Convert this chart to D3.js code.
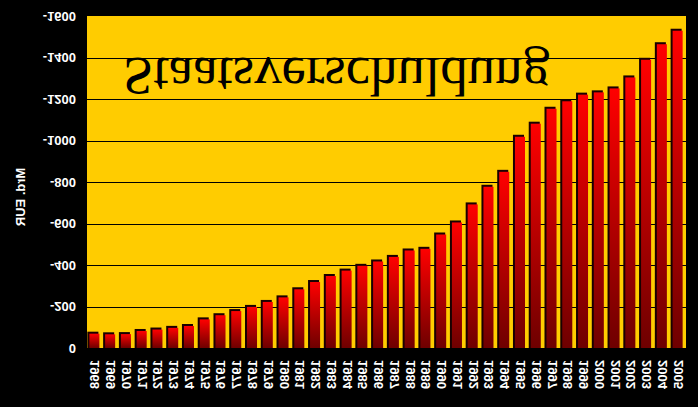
<!DOCTYPE html>
<html><head><meta charset="utf-8">
<script src="https://cdn.jsdelivr.net/npm/d3@7"></script>
<style>html,body{margin:0;padding:0;background:#000;}svg{display:block;}</style>
</head><body>
<svg id="c" width="698" height="407"></svg>
<script>
const years = ["1968","1969","1970","1971","1972","1973","1974","1975","1976","1977","1978","1979","1980","1981","1982","1983","1984","1985","1986","1987","1988","1989","1990","1991","1992","1993","1994","1995","1996","1997","1998","1999","2000","2001","2002","2003","2004","2005"];
const debt = [69,66,67,82,89,97,106,138,158,178,198,222,244,283,318,347,373,396,417,439,470,478,547,605,692,777,849,1018,1081,1153,1189,1221,1232,1251,1304,1389,1464,1529];
const tickValues = [0,200,400,600,800,1000,1200,1400,1600];
const tickLabels = ["0","-200","-400","-600","-800","-1000","-1200","-1400","-1600"];
const title = "Staatsverschuldung";
const yTitle = "Mrd. EUR";

const svg = d3.select("#c");
const L = 87, R = 686, T = 16, B = 348;
svg.append("rect").attr("width",698).attr("height",407).attr("fill","#000");

const x = d3.scaleBand().domain(years).range([L,R]).paddingInner(0.3).paddingOuter(0.15);
const y = d3.scaleLinear().domain([0,1600]).range([B,T]);

const defs = svg.append("defs");
const g = defs.append("linearGradient").attr("id","bg").attr("x1",0).attr("y1",0).attr("x2",0).attr("y2",1);
g.append("stop").attr("offset","0%").attr("stop-color","#ff0000");
g.append("stop").attr("offset","100%").attr("stop-color","#6e0000");

svg.append("rect").attr("x",L).attr("y",T).attr("width",R-L).attr("height",B-T).attr("fill","#ffcc00");

svg.append("g").selectAll("line").data(tickValues.filter(v=>v>0&&v<1600)).join("line")
  .attr("x1",L).attr("x2",R).attr("y1",d=>Math.round(y(d))+0.5).attr("y2",d=>Math.round(y(d))+0.5)
  .attr("stroke","#000").attr("stroke-width",1);

// title (vertically mirrored)
svg.append("text").attr("transform",`translate(123,58) scale(1,-1)`)
  .attr("font-family","Liberation Serif, Times New Roman, serif").attr("font-size",55)
  .attr("fill","#000").attr("textLength",427).attr("lengthAdjust","spacingAndGlyphs").text(title);

const data = years.map((yr,i)=>({yr, v:debt[i]}));
const bars = svg.append("g");
bars.selectAll("rect.sh").data(data).join("rect").attr("class","sh")
  .attr("x",d=>x(d.yr)-2).attr("y",d=>y(d.v)-2)
  .attr("width",x.bandwidth()).attr("height",d=>B-y(d.v)+2).attr("fill","#1a0000");
bars.selectAll("rect.b").data(data).join("rect").attr("class","b")
  .attr("x",d=>x(d.yr)).attr("y",d=>y(d.v))
  .attr("width",x.bandwidth()-1).attr("height",d=>B-y(d.v)).attr("fill","url(#bg)");

// y tick labels (mirrored)
svg.append("g").selectAll("text").data(tickValues).join("text")
  .attr("transform",(d,i)=>`translate(76,${y(d)}) scale(1,-1)`)
  .attr("text-anchor","end").attr("dominant-baseline","central")
  .attr("font-family","Liberation Sans, Arial, sans-serif").attr("font-weight","bold").attr("font-size",13)
  .attr("fill","#fff").text((d,i)=>tickLabels[i]);

// x labels
svg.append("g").selectAll("text").data(years).join("text")
  .attr("transform",d=>`translate(${x(d)+x.bandwidth()/2},360) rotate(90) scale(1,-1)`)
  .attr("text-anchor","start").attr("dominant-baseline","central")
  .attr("font-family","Liberation Sans, Arial, sans-serif").attr("font-weight","bold").attr("font-size",13)
  .attr("fill","#fff").text(d=>d);

// y title
svg.append("text").attr("transform","translate(20,197) rotate(90) scale(1,-1)")
  .attr("text-anchor","middle").attr("dominant-baseline","central")
  .attr("font-family","Liberation Sans, Arial, sans-serif").attr("font-weight","bold").attr("font-size",13)
  .attr("fill","#fff").text(yTitle);
</script>
</body></html>
